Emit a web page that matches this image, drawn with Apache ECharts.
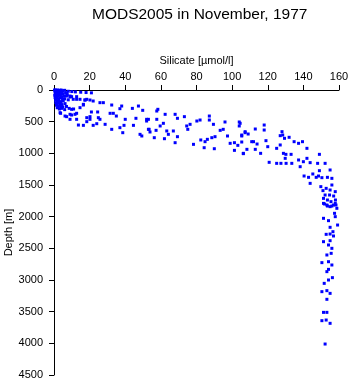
<!DOCTYPE html>
<html>
<head>
<meta charset="utf-8">
<script src="https://cdn.jsdelivr.net/npm/echarts@6/dist/echarts.min.js"></script>
<style>
  html, body { margin: 0; padding: 0; background: #fff; }
  #chartBox { width: 351px; height: 384px; }
</style>
</head>
<body>
<div id="chartBox"></div>
<script>
// silicate [µmol/l] and depth [m], pair by pair
const silicate = [
  0.3, 1, 2, 3, 4, 5, 6, 8, 10, 12, 15, 18, 21,
  0.5, 1.5, 2.5, 3.5, 4.5, 0.8, 1.8, 2.8, 3.8, 5, 6.5, 7.5,
  0.4, 1.2, 2.2, 3.2, 4.2, 5.5, 7, 9, 0.6, 1.6, 2.6, 3.6, 4.8, 6, 8,
  0.9, 2, 3, 4, 5.2, 1, 2.3, 3.3, 4.5, 6.2, 1.4, 2.5, 3.8, 5, 7,
  1.8, 3, 4.2, 6, 8.5, 11,
  7.1, 9, 10.8, 12.7, 14.6, 17.4, 18.4, 22, 25.8, 27.7, 32.4, 38, 37, 44, 47.4, 49.8,
  14.6, 16.5, 9.9, 21, 24.5, 31.5, 33.3, 35, 40, 46, 3.4, 6.2, 9, 11.8, 12.7, 9,
  18.4, 20.2, 24.9, 25.8, 13.7, 16.5, 22, 24, 28.7, 32.4, 37, 38.6, 39.3, 44.6, 48.3, 49.3, 52, 53,
  3.7, 7.1, 9.9, 12.7, 16.5, 20.2, 17.4, 12.7, 9.9, 18.4, 20.2,
  58.3, 57.7, 53, 52, 57.7, 61.4, 59.6, 62.4, 68, 69.3, 73.2, 74.5, 76.4, 75.1, 80.2, 82,
  87.2, 87.2, 89.5, 96, 104, 104, 93.3, 95, 97.4, 105.4, 107.3, 53.4, 53.9, 57.3, 63.3, 64.2,
  67, 56.3, 62, 69.3, 68, 82.4, 84.8, 86.1, 88.6, 90.4, 78.3, 84.3, 90, 98.9, 101.3, 103.2,
  105.4, 101.3, 106.3,
  104.5, 105.4, 107.3, 109, 113, 118, 118, 112, 111, 114, 113, 108.3, 106.3, 116, 119, 120,
  125, 127, 128.4, 129.4, 132, 128, 127, 134.8, 137.3, 139.5, 142, 128.8, 129.8, 130.2, 133.1,
  120.8, 125, 127.4, 130.3, 133.5, 137.3, 138.2, 140, 142, 143.8, 148, 152.2, 149, 149, 155,
  140.4, 142.9, 145.3, 147.2, 148.5, 150.4, 153.5, 156, 143.8, 149.8, 151, 152.8, 155, 156, 157.9,
  152.2, 154.7, 157, 151.3, 153.5, 155.5, 158, 151.9, 153.5, 156, 158.3, 158.8,
  151.3, 153.2, 155, 156.9, 157.9, 157.5, 157.9, 151.3, 154.1, 159.2, 155, 156.6, 155, 156.9,
  152.8, 151.3, 155, 154.1, 156, 155.6, 153.2, 150.4, 154.1, 156, 154.1, 153.2, 156.3, 154.1,
  151.7, 150.4, 153.2, 155, 153.2, 151.3, 153.2, 150.4, 152.8, 155, 152.2
];
const depth = [
  0, 0, 0, 5, 0, 10, 5, 20, 25, 30, 35, 40, 45,
  20, 30, 25, 40, 30, 50, 60, 55, 70, 60, 50, 75,
  80, 90, 100, 85, 110, 100, 95, 110, 120, 130, 140, 125, 150, 140, 155,
  160, 175, 180, 190, 170, 200, 210, 220, 230, 215, 240, 260, 250, 270, 260,
  280, 300, 290, 310, 290, 300,
  42, 95, 147, 147, 147, 158, 147, 174, 200, 200, 237, 253, 295, 290, 253, 321,
  279, 226, 305, 347, 347, 368, 368, 411, 463, 447, 358, 411, 384, 384, 463, 463,
  437, 463, 437, 463, 553, 558, 558, 532, 542, 621, 595, 674, 558, 558, 700, 726, 463, 621,
  368, 421, 395, 368, 237, 158, 158, 105, 105, 500, 421,
  305, 332, 463, 490, 463, 526, 568, 384, 384, 447, 421, 568, 542, 621, 490, 474,
  411, 474, 542, 505, 505, 568, 637, 621, 726, 726, 674, 621, 663, 637, 647, 700,
  647, 753, 769, 737, 832, 789, 816, 779, 753, 737, 858, 911, 927, 842, 832, 874,
  821, 953, 1005,
  526, 711, 658, 695, 616, 553, 632, 816, 816, 853, 937, 937, 1000, 1000, 800, 895,
  921, 868, 711, 763, 747, 658, 721, 816, 842, 816, 921, 1000, 1079, 1016, 1016,
  1142, 1158, 1158, 1158, 1158, 1105, 1211, 1132, 1079, 1147, 1158, 1158, 1016, 1274, 1263,
  1358, 1379, 1326, 1379, 1358, 1384, 1379, 1395, 1474, 1526, 1589, 1553, 1579, 1500, 1605,
  1658, 1658, 1674, 1711, 1737, 1763, 1737, 1800, 1832, 1832, 1816, 1868,
  1790, 1816, 1842, 1816, 1790, 1947, 2000, 2026, 2063, 2132, 2168, 2237, 2274, 2305,
  2279, 2395, 2379, 2447, 2500, 2579, 2605, 2726, 2711, 2763, 2832, 2868, 2963, 3000,
  3053, 3184, 3168, 3211, 3305, 3511, 3511, 3642, 3632, 3684, 4011
];
const siliTicks = [0, 160, 20];   // min, max, interval
const depthTicks = [0, 4500, 500];

const points = silicate.map((s, i) => [s, depth[i]]);
const font = "'Liberation Sans', Arial, sans-serif";

const chart = echarts.init(document.getElementById("chartBox"));
chart.setOption({
  animation: false,
  backgroundColor: "#fff",
  title: {
    text: "MODS2005 in November, 1977",
    left: 87,
    top: 2,
    textStyle: { color: "#000", fontSize: 15.5, fontWeight: "normal", fontFamily: font },
  },
  grid: { left: 54, top: 90, width: 285, height: 285, containLabel: false, outerBoundsMode: "none" },
  xAxis: {
    type: "value",
    position: "top",
    min: siliTicks[0],
    max: siliTicks[1],
    interval: siliTicks[2],
    name: "Silicate [µmol/l]",
    nameLocation: "middle",
    nameGap: 24,
    nameMoveOverlap: false,
    nameTextStyle: { color: "#000", fontSize: 11, fontFamily: font },
    axisLine: { onZero: false, lineStyle: { color: "#000", width: 1 } },
    axisTick: { length: 5, lineStyle: { color: "#000" } },
    axisLabel: { color: "#000", fontSize: 11, fontFamily: font, margin: 8 },
    splitLine: { show: false },
  },
  yAxis: {
    type: "value",
    inverse: true,
    min: depthTicks[0],
    max: depthTicks[1],
    interval: depthTicks[2],
    name: "Depth [m]",
    nameLocation: "middle",
    nameGap: 40,
    nameMoveOverlap: false,
    nameTextStyle: { color: "#000", fontSize: 11, fontFamily: font },
    axisLine: { show: true, onZero: false, lineStyle: { color: "#000", width: 1 } },
    axisTick: { show: true, length: 5, lineStyle: { color: "#000" } },
    axisLabel: { color: "#000", fontSize: 11, fontFamily: font, margin: 11, formatter: v => String(v) },
    splitLine: { show: false },
  },
  series: [
    {
      type: "scatter",
      data: points,
      symbol: "rect",
      symbolSize: 3,
      itemStyle: { color: "#0000ff", opacity: 1 },
    },
  ],
});
</script>
</body>
</html>
